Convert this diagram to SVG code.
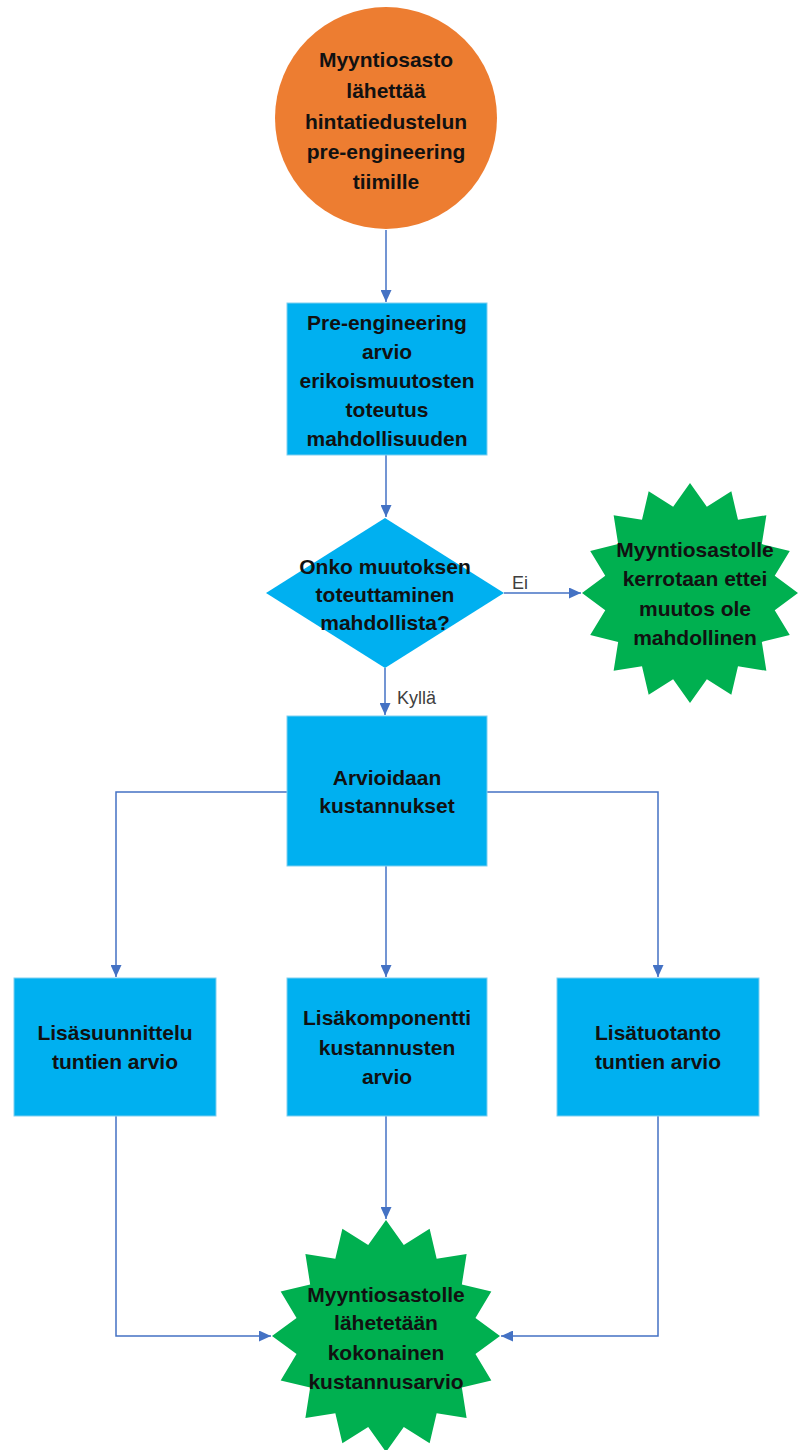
<svg xmlns="http://www.w3.org/2000/svg" xmlns:xlink="http://www.w3.org/1999/xlink" width="798" height="1450" viewBox="0 0 798 1450">
<style>
.t{font-family:"Liberation Sans",Arial,sans-serif;font-weight:bold;font-size:21px;fill:#111;text-anchor:middle}
.lbl{font-family:"Liberation Sans",Arial,sans-serif;font-size:18px;fill:#404040}
.box{fill:#00B0F0;stroke:#7FCFF0;stroke-width:1}
.dec{fill:#00B0F0}
.start{fill:#ED7D31}
.end{fill:#00B050}
.c{fill:none;stroke:#4472C4;stroke-width:1.5}
</style>
<defs>
<marker id="ah" viewBox="0 0 10 10" refX="10" refY="5" markerWidth="12" markerHeight="11" markerUnits="userSpaceOnUse" orient="auto" preserveAspectRatio="none">
<path d="M0,0 L10,5 L0,10 z" fill="#4472C4"/>
</marker>
<polygon id="star16" points="0,-1 .1561,-.7846 .3827,-.9239 .4444,-.6652 .7071,-.7071 .6652,-.4444 .9239,-.3827 .7846,-.1561 1,0 .7846,.1561 .9239,.3827 .6652,.4444 .7071,.7071 .4444,.6652 .3827,.9239 .1561,.7846 0,1 -.1561,.7846 -.3827,.9239 -.4444,.6652 -.7071,.7071 -.6652,.4444 -.9239,.3827 -.7846,.1561 -1,0 -.7846,-.1561 -.9239,-.3827 -.6652,-.4444 -.7071,-.7071 -.4444,-.6652 -.3827,-.9239 -.1561,-.7846"/>
</defs>
<rect width="798" height="1450" fill="#fff"/>
<g id="connectors">
<path class="c" d="M386,230 V302" marker-end="url(#ah)"/>
<path class="c" d="M386,455 V517" marker-end="url(#ah)"/>
<path class="c" d="M504,593 H581" marker-end="url(#ah)"/>
<path class="c" d="M385,668 V715" marker-end="url(#ah)"/>
<path class="c" d="M287,792 H116 V977" marker-end="url(#ah)"/>
<path class="c" d="M487,792 H658 V977" marker-end="url(#ah)"/>
<path class="c" d="M386,866 V977" marker-end="url(#ah)"/>
<path class="c" d="M116,1116 V1336 H271" marker-end="url(#ah)"/>
<path class="c" d="M386,1116 V1219" marker-end="url(#ah)"/>
<path class="c" d="M658,1116 V1336 H501" marker-end="url(#ah)"/>
<text class="lbl" x="512" y="589">Ei</text>
<text class="lbl" x="397" y="704">Kyllä</text>
</g>
<g id="start">
<circle class="start" cx="386" cy="118" r="111"/>
<text class="t" x="386" y="67">Myyntiosasto</text>
<text class="t" x="386" y="98">lähettää</text>
<text class="t" x="386" y="129">hintatiedustelun</text>
<text class="t" x="386" y="159">pre-engineering</text>
<text class="t" x="386" y="189">tiimille</text>
</g>
<g id="preeng">
<rect class="box" x="287" y="303" width="200" height="152"/>
<text class="t" x="387" y="330">Pre-engineering</text>
<text class="t" x="387" y="359">arvio</text>
<text class="t" x="387" y="388">erikoismuutosten</text>
<text class="t" x="387" y="417">toteutus</text>
<text class="t" x="387" y="446">mahdollisuuden</text>
</g>
<g id="decision">
<polygon class="dec" points="385,518 504,593 385,668 266,593"/>
<text class="t" x="385" y="574">Onko muutoksen</text>
<text class="t" x="385" y="602">toteuttaminen</text>
<text class="t" x="385" y="630">mahdollista?</text>
</g>
<g id="notpossible">
<use xlink:href="#star16" href="#star16" class="end" transform="translate(690,593) scale(108,110)"/>
<text class="t" x="695" y="557">Myyntiosastolle</text>
<text class="t" x="695" y="586">kerrotaan ettei</text>
<text class="t" x="695" y="616">muutos ole</text>
<text class="t" x="695" y="645">mahdollinen</text>
</g>
<g id="estimate">
<rect class="box" x="287" y="716" width="200" height="150"/>
<text class="t" x="387" y="785">Arvioidaan</text>
<text class="t" x="387" y="813">kustannukset</text>
</g>
<g id="design">
<rect class="box" x="14" y="978" width="202" height="138"/>
<text class="t" x="115" y="1040">Lisäsuunnittelu</text>
<text class="t" x="115" y="1069">tuntien arvio</text>
</g>
<g id="components">
<rect class="box" x="287" y="978" width="200" height="138"/>
<text class="t" x="387" y="1025">Lisäkomponentti</text>
<text class="t" x="387" y="1055">kustannusten</text>
<text class="t" x="387" y="1084">arvio</text>
</g>
<g id="production">
<rect class="box" x="557" y="978" width="202" height="138"/>
<text class="t" x="658" y="1040">Lisätuotanto</text>
<text class="t" x="658" y="1069">tuntien arvio</text>
</g>
<g id="final">
<use xlink:href="#star16" href="#star16" class="end" transform="translate(386,1336) scale(114,116)"/>
<text class="t" x="386" y="1302">Myyntiosastolle</text>
<text class="t" x="386" y="1330">lähetetään</text>
<text class="t" x="386" y="1360">kokonainen</text>
<text class="t" x="386" y="1389">kustannusarvio</text>
</g>
</svg>
